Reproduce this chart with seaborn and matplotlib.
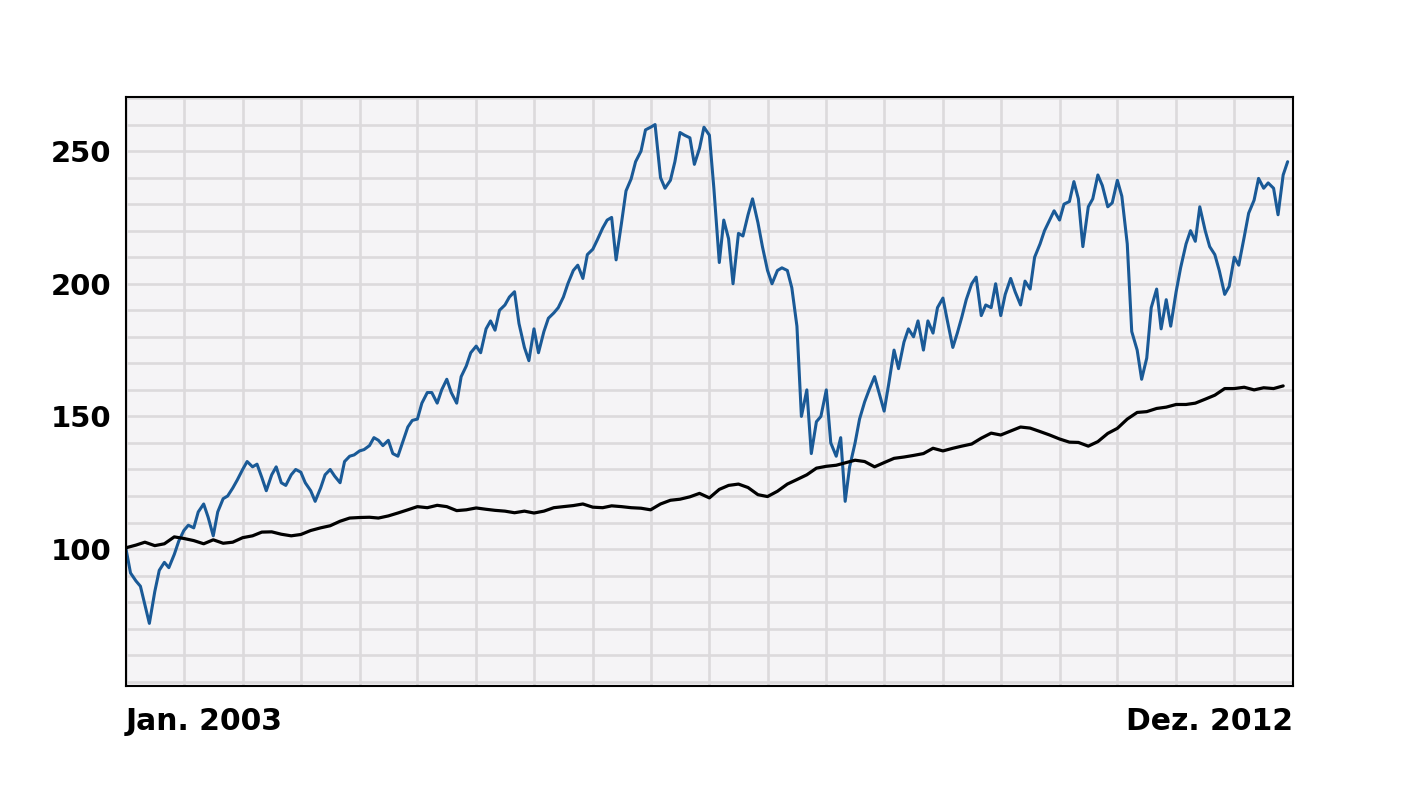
import matplotlib
matplotlib.use("Agg")
import matplotlib.dates as mdates
import matplotlib.pyplot as plt
import matplotlib.ticker as mticker
import pandas as pd
import seaborn as sns


equity_values = [
    100, 91, 88, 86, 79, 72, 84, 92, 95, 93, 98, 103, 107, 109, 108, 114, 117, 112, 105, 114,
    119, 120, 123, 126, 130, 133, 131, 132, 127, 122, 128, 131, 125, 124, 128, 130, 129, 125, 122, 118,
    123, 128, 130, 127.5, 125, 133, 135, 135.5, 137, 137.5, 139, 142, 141, 139, 141, 136, 135, 140,
    146, 148.5, 149, 155, 159, 159, 155, 160, 164, 159, 155, 165, 169, 174, 176.5, 174, 183, 186,
    182.5, 190, 192, 195, 197, 185, 176, 171, 183, 174, 182, 187, 189, 191, 195, 200, 205, 207,
    202, 211, 213, 216.5, 221, 224, 225, 209, 223, 235, 239.5, 246, 250, 258, 259, 260, 240, 236,
    239, 246, 257, 256, 255, 245, 251, 259, 256, 236, 208, 224, 217, 200, 219, 218, 226, 232,
    223, 214, 205, 200, 205, 206, 205, 198.5, 184, 150, 160, 136, 148, 150, 160, 140, 135, 142,
    118, 131, 140, 149, 155.5, 160, 165, 159, 152, 162, 175, 168, 178, 183, 180, 186, 175, 186,
    181.4, 191, 194.6, 186, 176, 181.4, 187.4, 194, 200, 202.5, 188, 192, 191, 200, 188, 196, 202,
    197, 192, 201, 198, 210, 215, 220, 224, 227.5, 224, 230, 231, 238.5, 232, 214, 229, 232, 241,
    237, 229, 230.5, 239, 233, 215, 182, 175, 164, 172, 191, 198, 183, 194, 184, 197, 206, 215,
    220, 216, 229, 220, 214, 211, 205, 196, 199, 210, 207, 217.6, 226.6, 231.5, 239.7, 236, 238, 236,
    226, 241, 246,
]

bond_values = [
    100.5, 101.5, 102.6, 101.3, 102, 104.6, 104, 103.2, 102, 103.5, 102.2, 102.6, 104.3, 105,
    106.4, 106.5, 105.6, 105, 105.5, 107, 108, 108.8, 110.5, 111.7, 111.9, 112, 111.7, 112.5,
    113.6, 114.8, 116, 115.6, 116.5, 116, 114.5, 114.8, 115.5, 115, 114.6, 114.3, 113.7, 114.3,
    113.6, 114.3, 115.6, 116, 116.4, 117, 115.8, 115.6, 116.3, 116, 115.6, 115.4, 114.8, 117,
    118.4, 118.8, 119.7, 121, 119.3, 122.5, 124, 124.5, 123.2, 120.5, 119.8, 121.8, 124.5, 126.2,
    128, 130.5, 131.2, 131.6, 132.5, 133.5, 133, 131, 132.6, 134.2, 134.7, 135.3, 136, 138,
    137, 138, 138.8, 139.6, 141.8, 143.7, 143, 144.5, 146, 145.6, 144.3, 143, 141.5, 140.3,
    140.2, 138.8, 140.5, 143.6, 145.5, 149, 151.5, 151.8, 153, 153.5, 154.5, 154.5, 155, 156.5,
    158, 160.5, 160.5, 161, 160, 160.8, 160.5, 161.5,
]

equity_dates = pd.date_range("2003-01-01", periods=len(equity_values), freq="SMS")
bond_dates = pd.date_range("2003-01-01", periods=len(bond_values), freq="MS")

y_labels = [100, 150, 200, 250]
start_label = "Jan. 2003"
end_label = "Dez. 2012"


def main() -> None:
    sns.set_style("white")
    plt.rcParams["font.family"] = ["DejaVu Sans"]

    fig = plt.figure(figsize=(14.02, 8.0), dpi=100)
    ax = fig.add_axes([0.0899, 0.1425, 0.8324, 0.7363])
    ax.set_facecolor("#f5f4f6")

    equity = pd.DataFrame({"Datum": equity_dates, "Wert": equity_values})
    bond = pd.DataFrame({"Datum": bond_dates, "Wert": bond_values})

    sns.lineplot(data=equity, x="Datum", y="Wert", ax=ax, color="#1a5a97", linewidth=2.2)
    sns.lineplot(data=bond, x="Datum", y="Wert", ax=ax, color="#000000", linewidth=2.3)

    ax.set_xlim(pd.Timestamp("2003-01-01"), pd.Timestamp("2013-01-01"))
    ax.set_ylim(48.4, 270.4)

    # grid: half-year columns, rows every 10 points
    ax.xaxis.set_major_locator(mdates.MonthLocator(bymonth=[1, 7]))
    ax.xaxis.set_major_formatter(mticker.NullFormatter())
    ax.yaxis.set_major_locator(mticker.MultipleLocator(10))
    ax.yaxis.set_major_formatter(
        mticker.FuncFormatter(lambda v, _: f"{v:.0f}" if round(v) in y_labels else "")
    )
    ax.grid(True, color="#dcdadc", linewidth=1.9)
    ax.set_axisbelow(True)
    ax.tick_params(axis="both", length=0)
    ax.tick_params(axis="y", pad=10.5, labelsize=21, labelcolor="black")
    for lab in ax.get_yticklabels():
        lab.set_fontweight("bold")

    for spine in ax.spines.values():
        spine.set_visible(True)
        spine.set_color("black")
        spine.set_linewidth(1.5)

    ax.set_xlabel("")
    ax.set_ylabel("")

    ax.text(0.0, -0.061, start_label, transform=ax.transAxes, ha="left", va="center",
            fontsize=21.5, fontweight="bold", color="black")
    ax.text(1.0, -0.061, end_label, transform=ax.transAxes, ha="right", va="center",
            fontsize=21.5, fontweight="bold", color="black")

    fig.savefig("out.png", dpi=100, facecolor="white")
    plt.close(fig)


if __name__ == "__main__":
    main()
